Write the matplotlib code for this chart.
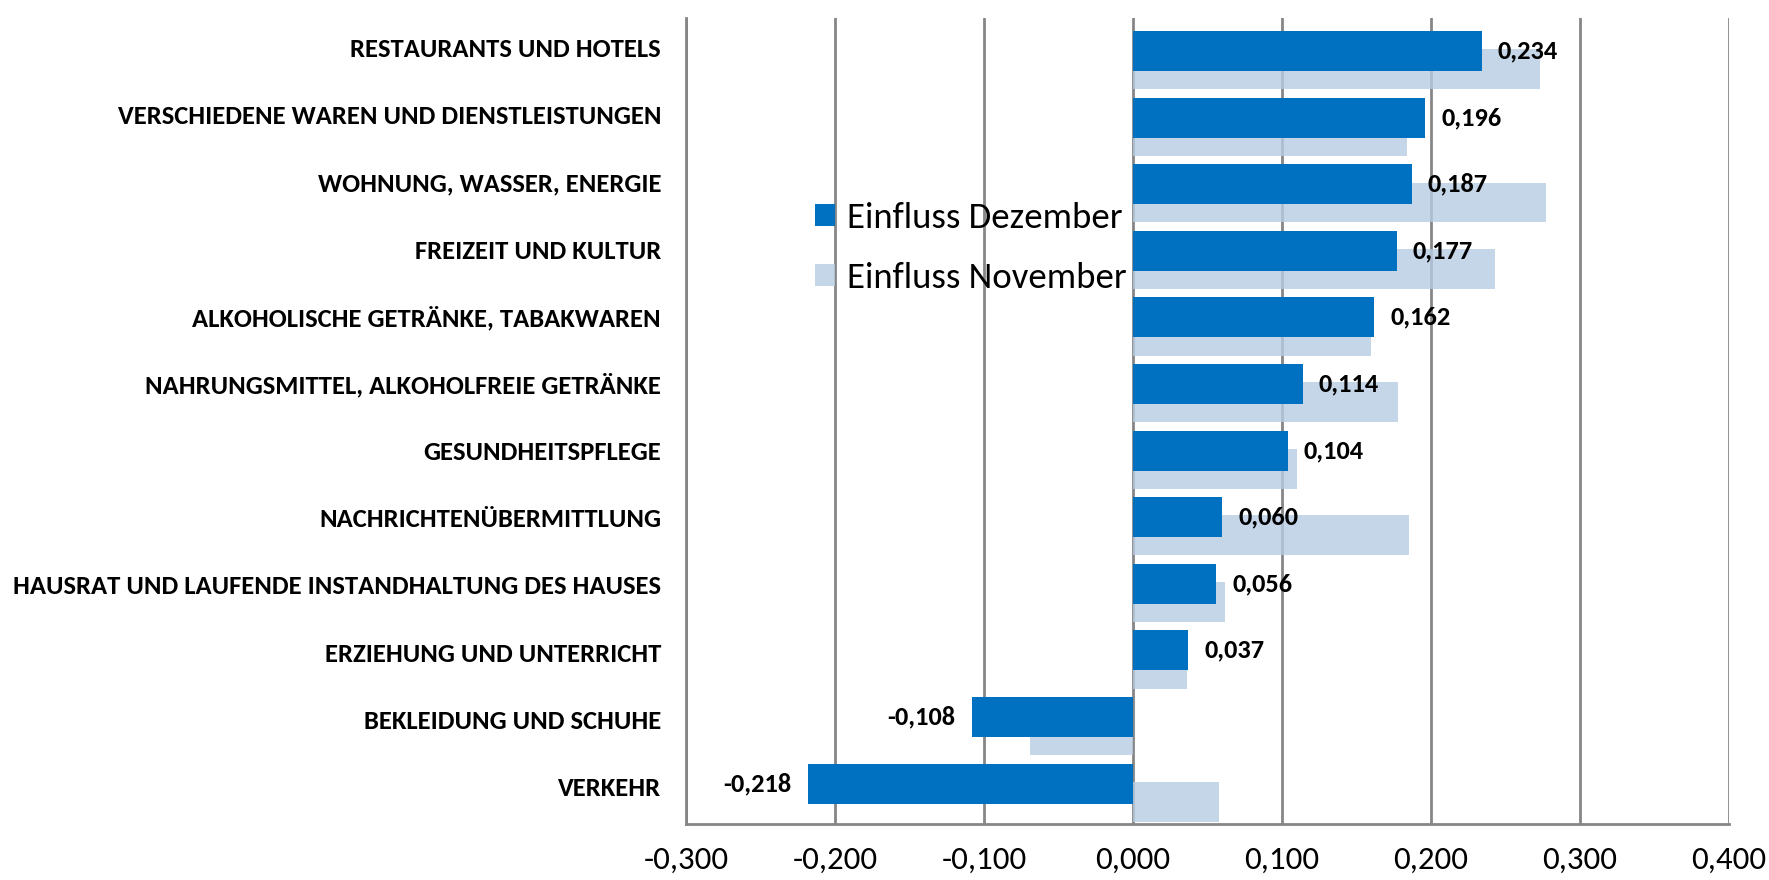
import numpy as np
import matplotlib
matplotlib.use("Agg")
import matplotlib.pyplot as plt

categories = [
    "RESTAURANTS UND HOTELS",
    "VERSCHIEDENE WAREN UND DIENSTLEISTUNGEN",
    "WOHNUNG, WASSER, ENERGIE",
    "FREIZEIT UND KULTUR",
    "ALKOHOLISCHE GETRÄNKE, TABAKWAREN",
    "NAHRUNGSMITTEL, ALKOHOLFREIE GETRÄNKE",
    "GESUNDHEITSPFLEGE",
    "NACHRICHTENÜBERMITTLUNG",
    "HAUSRAT UND LAUFENDE INSTANDHALTUNG DES HAUSES",
    "ERZIEHUNG UND UNTERRICHT",
    "BEKLEIDUNG UND SCHUHE",
    "VERKEHR",
]
dezember = [0.234, 0.196, 0.187, 0.177, 0.162, 0.114, 0.104, 0.060, 0.056, 0.037, -0.108, -0.218]
november = [0.273, 0.184, 0.277, 0.243, 0.160, 0.178, 0.110, 0.185, 0.062, 0.036, -0.069, 0.058]
xticks = [-0.3, -0.2, -0.1, 0.0, 0.1, 0.2, 0.3, 0.4]

plt.rcParams["font.family"] = ["Carlito", "DejaVu Sans"]

fig = plt.figure(figsize=(17.69, 8.80), dpi=100)
ax = fig.add_axes([686 / 1769, 1 - 823.5 / 880, (1729 - 686) / 1769, (823.5 - 17.7) / 880])

y = np.arange(len(categories))
h = 0.6
ax.barh(y + 0.275, november, height=h, color="#B8CCE4", alpha=0.8, zorder=3,
        label="Einfluss November")
ax.barh(y, dezember, height=h, color="#0070C0", zorder=4, label="Einfluss Dezember")

for yi, v in zip(y, dezember):
    txt = f"{v:.3f}".replace(".", ",")
    if v >= 0:
        ax.annotate(txt, (v, yi), xytext=(11.5, 0), textcoords="offset points",
                    ha="left", va="center", fontsize=19, fontweight="bold", zorder=5)
    else:
        ax.annotate(txt, (v, yi), xytext=(-12, 0), textcoords="offset points",
                    ha="right", va="center", fontsize=19, fontweight="bold", zorder=5)

ax.set_xlim(-0.3, 0.4)
ax.set_ylim(11.6, -0.5)
ax.set_xticks(xticks)
ax.set_xticklabels([f"{t:.3f}".replace(".", ",") for t in xticks], fontsize=23.7)
# category labels sit evenly over the full axis height
ax.set_yticks(y * 12.1 / 12 - 0.05)
ax.set_yticklabels(categories, fontsize=19.2, fontweight="bold")
ax.tick_params(axis="both", length=0)
ax.tick_params(axis="x", pad=16)
ax.tick_params(axis="y", pad=18)

ax.grid(axis="x", color="#868686", linewidth=2, zorder=1)
ax.set_axisbelow(True)
for s in ["top", "right"]:
    ax.spines[s].set_visible(False)
for s in ["left", "bottom"]:
    ax.spines[s].set_color("#868686")
    ax.spines[s].set_linewidth(2)

handles, labels = ax.get_legend_handles_labels()
leg = fig.legend(handles[::-1], labels[::-1], loc="center left",
                 bbox_to_anchor=(815 / 1769, 1 - 248 / 880), frameon=False,
                 prop={"family": ["Carlito", "DejaVu Sans"], "size": 26.5},
                 handlelength=0.54, handleheight=0.54, handletextpad=0.33,
                 labelspacing=0.75, borderpad=0, borderaxespad=0)

fig.savefig("out.png", dpi=100)
